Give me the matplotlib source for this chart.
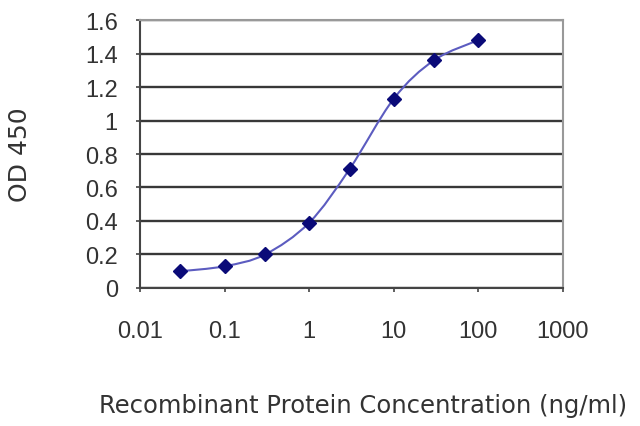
import numpy as np
import matplotlib
matplotlib.use("Agg")
import matplotlib.pyplot as plt
from matplotlib.path import Path
from matplotlib.patches import PathPatch

# data
conc = [0.03, 0.1, 0.3, 1, 3, 10, 30, 100]
od450 = [0.10, 0.13, 0.20, 0.39, 0.71, 1.13, 1.36, 1.48]
yticks = [0, 0.2, 0.4, 0.6, 0.8, 1, 1.2, 1.4, 1.6]
ytick_labels = ["0", "0.2", "0.4", "0.6", "0.8", "1", "1.2", "1.4", "1.6"]
xticks = [0.01, 0.1, 1, 10, 100, 1000]
xtick_labels = ["0.01", "0.1", "1", "10", "100", "1000"]

plt.rcParams['font.family'] = ['Liberation Sans', 'DejaVu Sans']

fig = plt.figure(figsize=(6.4, 4.27), dpi=100)
ax = fig.add_axes([0.21875, 0.3232, 0.6609, 0.6276])


def smooth_path(xs, ys, k=1/6):
    # excel-style smoothed line: catmull-rom segments as cubic beziers in log-x space
    lx = np.log10(xs)
    y = np.asarray(ys, dtype=float)
    n = len(lx)
    verts = [(lx[0], y[0])]
    codes = [Path.MOVETO]
    for i in range(n - 1):
        p0 = (lx[max(i - 1, 0)], y[max(i - 1, 0)])
        p1 = (lx[i], y[i])
        p2 = (lx[i + 1], y[i + 1])
        p3 = (lx[min(i + 2, n - 1)], y[min(i + 2, n - 1)])
        c1 = (p1[0] + (p2[0] - p0[0]) * k, p1[1] + (p2[1] - p0[1]) * k)
        c2 = (p2[0] - (p3[0] - p1[0]) * k, p2[1] - (p3[1] - p1[1]) * k)
        verts += [c1, c2, p2]
        codes += [Path.CURVE4] * 3
    verts = [(10 ** vx, vy) for vx, vy in verts]
    return Path(verts, codes)


ax.set_xscale('log')
ax.set_xlim(0.01, 1000)
ax.set_ylim(0, 1.6)

ax.add_patch(PathPatch(smooth_path(conc, od450), facecolor='none',
                       edgecolor='#5c5cc0', lw=1.5, zorder=3))
ax.plot(conc, od450, ls='none', marker='D', ms=7, color='#0a0a78', zorder=4)

ax.set_yticks(yticks)
ax.set_yticklabels(ytick_labels)
ax.set_xticks(xticks)
ax.set_xticklabels(xtick_labels)
ax.minorticks_off()
ax.yaxis.grid(True, color='#383838', lw=1.7)
ax.set_axisbelow(True)

for side in ['left', 'bottom']:
    ax.spines[side].set_color('#444444')
    ax.spines[side].set_linewidth(1.5)
for side in ['top', 'right']:
    ax.spines[side].set_color('#999999')
    ax.spines[side].set_linewidth(1.5)

ax.tick_params(axis='both', length=3, width=1.2, color='#444444',
               labelsize=17, labelcolor='#333333')
ax.tick_params(axis='x', pad=20)
ax.tick_params(axis='y', pad=13)

fig.text(0.031, 0.637, "OD 450", rotation=90, fontsize=18, color='#333333',
         ha='center', va='center', family='DejaVu Sans')
fig.text(0.567, 0.049, "Recombinant Protein Concentration (ng/ml)", fontsize=17.5,
         color='#333333', ha='center', va='center', family='DejaVu Sans')

fig.savefig("out.png", dpi=100)
